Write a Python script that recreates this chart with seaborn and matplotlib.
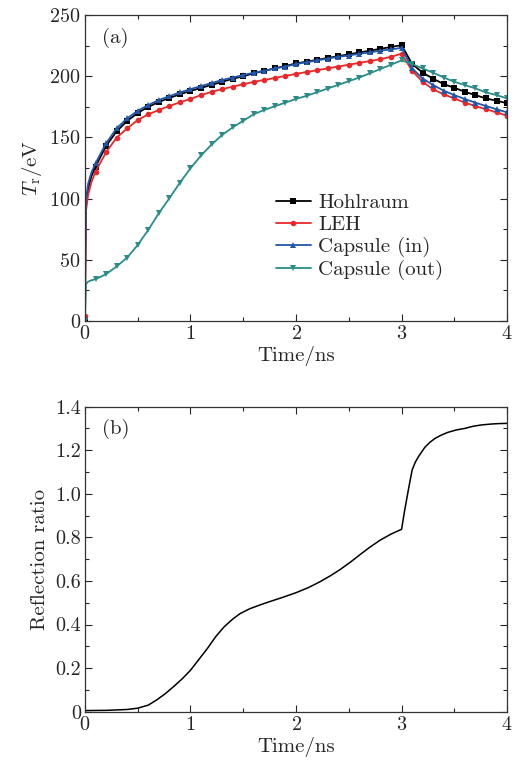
import seaborn as sns
import matplotlib
matplotlib.use("Agg")
import matplotlib.pyplot as plt
from matplotlib.ticker import MultipleLocator, FuncFormatter
import pandas as pd

# panel (a): radiation temperature, markers every 0.1 ns
t_a = [0, 0.005, 0.01, 0.03, 0.06, 0.1, 0.2, 0.3, 0.4, 0.5, 0.6, 0.7, 0.8, 0.9, 1.0,
       1.1, 1.2, 1.3, 1.4, 1.5, 1.6, 1.7, 1.8, 1.9, 2.0, 2.1, 2.2, 2.3, 2.4, 2.5,
       2.6, 2.7, 2.8, 2.9, 3.0, 3.1, 3.2, 3.3, 3.4, 3.5, 3.6, 3.7, 3.8, 3.9, 4.0]
hohlraum = [2, 60, 95, 108, 118, 126, 143, 155, 163.5, 170, 175, 179, 182.3, 185.3, 188,
            190.5, 193, 195.5, 198, 200, 202.5, 204.5, 206.5, 208.5, 210.5, 212, 213.5, 215, 216.5, 218,
            219.5, 221, 222.5, 224, 225.5, 210, 203, 198, 193.6, 190.6, 187.3, 184.6, 181.9, 180, 178]
leh = [4, 55, 90, 103, 113, 122, 137.8, 149.8, 157.4, 164.2, 168.9, 172.4, 175.7, 178.7, 181.5,
       184.6, 187.3, 189.5, 191.5, 193.5, 195.5, 197, 198.7, 200.3, 202, 203.5, 205, 206.5, 208, 209.5,
       211, 212.5, 214, 216, 218.5, 204.5, 195.5, 189.3, 185.2, 181.9, 178.4, 175.7, 173, 170.5, 167.7]
cap_in = [3, 65, 100, 112, 121, 128.8, 145.2, 157.4, 165.6, 171.8, 176.5, 180.6, 183.8, 186.8, 189.5,
          192, 194.5, 197, 199, 201, 203, 204.5, 206.5, 208, 210, 211.5, 213, 214.5, 216, 217,
          218.5, 219.5, 221, 222, 223.3, 206.4, 198.2, 192.8, 188.2, 184.6, 181.4, 178.4, 175.7, 173, 170.5]
cap_out = [0, 15, 30, 32, 33, 34, 38.1, 44.4, 51.7, 62, 74.3, 88, 100.2, 113, 124.7,
           135.2, 144.2, 152, 158.2, 163.6, 169, 172.5, 175.5, 178.5, 181.5, 184, 187, 190, 193, 196,
           199, 202.5, 206, 209.5, 213, 210, 206.4, 202.9, 199, 195.5, 192.8, 190.1, 186.8, 184.6, 181.9]
mark_idx = [0] + list(range(5, len(t_a)))

# panel (b): reflection ratio
t_b = [0, 0.2, 0.4, 0.5, 0.6, 0.68, 0.76, 0.84, 0.92, 1.0, 1.08, 1.16, 1.24, 1.32, 1.4, 1.47,
       1.56, 1.66, 1.75, 1.87, 2.0, 2.12, 2.23, 2.33, 2.42, 2.52, 2.61, 2.7, 2.8, 2.9, 3.0,
       3.03, 3.07, 3.1, 3.13, 3.16, 3.22, 3.27, 3.32, 3.38, 3.44, 3.52, 3.6, 3.68, 3.76, 3.85, 3.92, 4.0]
refl = [0.005, 0.006, 0.01, 0.016, 0.03, 0.054, 0.082, 0.115, 0.15, 0.19, 0.24, 0.29, 0.345, 0.39, 0.425, 0.45,
        0.472, 0.49, 0.505, 0.524, 0.546, 0.57, 0.597, 0.625, 0.653, 0.688, 0.722, 0.755, 0.788, 0.815, 0.837,
        0.926, 1.033, 1.109, 1.145, 1.17, 1.213, 1.237, 1.255, 1.27, 1.282, 1.293, 1.30, 1.31, 1.316, 1.32, 1.322, 1.323]

series = [("Hohlraum", hohlraum, "black", "s"),
          ("LEH", leh, "#e8282a", "o"),
          ("Capsule (in)", cap_in, "#2156a8", "^"),
          ("Capsule (out)", cap_out, "#2a8c86", "v")]

sns.set_style("ticks")
plt.rcParams["font.family"] = ["cmr10", "DejaVu Serif"]
plt.rcParams["mathtext.fontset"] = "cm"
plt.rcParams["axes.formatter.use_mathtext"] = True
plt.rcParams["font.size"] = 15

fs = 15
fig = plt.figure(figsize=(5.18, 7.6), dpi=100)
ax1 = fig.add_axes([0.164, 0.578, 0.815, 0.402])
ax2 = fig.add_axes([0.164, 0.0636, 0.815, 0.4014])

for name, vals, col, mk in series:
    df = pd.DataFrame({"t": t_a, "v": vals})
    sns.lineplot(data=df, x="t", y="v", ax=ax1, color=col, marker=mk, markersize=4,
                 markeredgewidth=0, linewidth=1.3, markevery=mark_idx, label=name)

df_b = pd.DataFrame({"t": t_b, "r": refl})
sns.lineplot(data=df_b, x="t", y="r", ax=ax2, color="black", linewidth=1.1)

ax1.set_xlim(0, 4)
ax1.set_ylim(0, 250)
ax1.yaxis.set_major_locator(MultipleLocator(50))
ax1.yaxis.set_minor_locator(MultipleLocator(25))
ax1.set_ylabel(r"$T_\mathrm{r}$/eV", fontsize=fs)
ax1.text(0.04, 0.91, "(a)", transform=ax1.transAxes, fontsize=fs)
ax1.legend(loc="upper left", bbox_to_anchor=(0.427, 0.45), frameon=False, fontsize=fs,
           handlelength=1.7, handletextpad=0.35, labelspacing=0.15, borderpad=0)

ax2.set_xlim(0, 4)
ax2.set_ylim(0, 1.4)
ax2.yaxis.set_major_locator(MultipleLocator(0.2))
ax2.yaxis.set_minor_locator(MultipleLocator(0.1))
ax2.yaxis.set_major_formatter(FuncFormatter(lambda v, p: "0" if abs(v) < 1e-9 else f"{v:.1f}"))
ax2.set_ylabel("Reflection ratio", fontsize=fs)
ax2.text(0.04, 0.91, "(b)", transform=ax2.transAxes, fontsize=fs)

for ax in (ax1, ax2):
    ax.set_xlabel("Time/ns", fontsize=fs, labelpad=2)
    ax.xaxis.set_major_locator(MultipleLocator(1))
    ax.xaxis.set_minor_locator(MultipleLocator(0.5))
    ax.tick_params(which="both", direction="in", top=True, right=True, labelsize=14.5, pad=3)
    ax.tick_params(which="major", length=5, width=0.8)
    ax.tick_params(which="minor", length=3, width=0.8)
    for s in ax.spines.values():
        s.set_linewidth(0.9)
        s.set_color("#333333")

fig.savefig("out.png", dpi=100)
